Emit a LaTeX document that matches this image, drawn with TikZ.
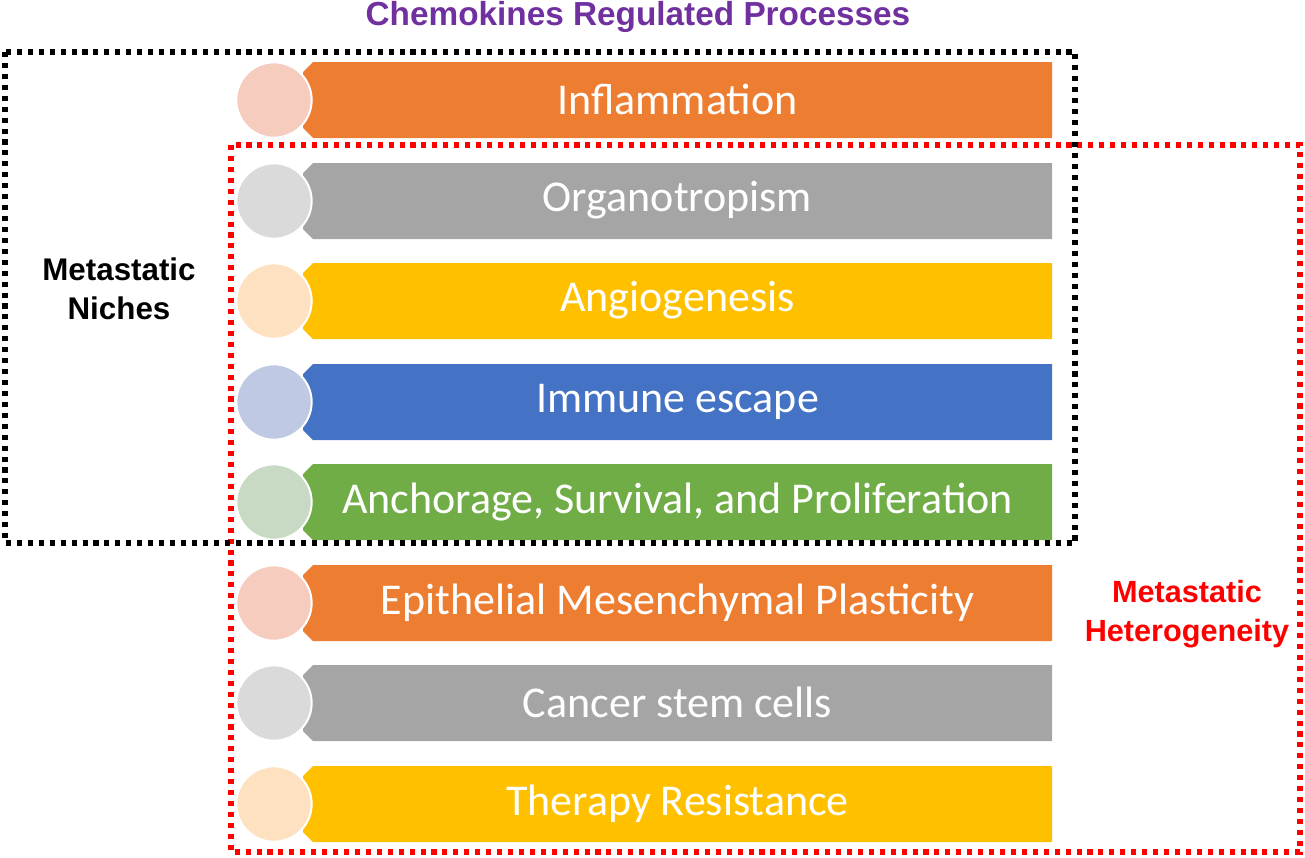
\documentclass[tikz,border=0pt]{standalone}
\usepackage{fontspec}
\setmainfont{Liberation Sans}
\newfontfamily\barfont{Carlito}
\definecolor{cOrange}{HTML}{ED7D31}
\definecolor{cOrangeL}{HTML}{F5CCBE}
\definecolor{cGray}{HTML}{A5A5A5}
\definecolor{cGrayL}{HTML}{DADADA}
\definecolor{cYellow}{HTML}{FFC000}
\definecolor{cYellowL}{HTML}{FEE1C0}
\definecolor{cBlue}{HTML}{4472C4}
\definecolor{cBlueL}{HTML}{BFC9E3}
\definecolor{cGreen}{HTML}{70AD47}
\definecolor{cGreenL}{HTML}{C8DAC3}
\definecolor{cPurple}{HTML}{7030A0}
\definecolor{cRed}{HTML}{FF0000}
\tikzset{
  barlabel/.style={text=white,font=\barfont\fontsize{33}{38}\selectfont,anchor=center,inner sep=0pt},
  dot/.style={fill,circle,draw=white,line width=1.5pt,minimum size=56.5pt,inner sep=0pt},
  dotbox/.style={line width=3.8pt,dash pattern=on 3.8pt off 4.4pt},
  sidelabel/.style={font=\bfseries\fontsize{23.5}{29}\selectfont,align=center,inner sep=0pt},
}
\begin{document}
\begin{tikzpicture}[x=0.75pt,y=-0.75pt]
\useasboundingbox (0,0) rectangle (1305,857);
\newcommand{\procrow}[5]{%
  % #1 name, #2 top y, #3 bar colour, #4 circle colour, #5 text
  \path[fill=#3] (313,#2) -- (1052,#2) -- (1052,#2+76) -- (313,#2+76) -- (303,#2+66) -- (303,#2+10) -- cycle;
  \node[dot,fill=#4] (#1c) at (274,#2+38) {};
  \node[barlabel] (#1) at (677.5,#2+37.5) {#5};
}
\procrow{r1}{62}{cOrange}{cOrangeL}{Inflammation}
\procrow{r2}{163}{cGray}{cGrayL}{Organotropism}
\procrow{r3}{263}{cYellow}{cYellowL}{Angiogenesis}
\procrow{r4}{364}{cBlue}{cBlueL}{Immune escape}
\procrow{r5}{464}{cGreen}{cGreenL}{Anchorage, Survival, and Proliferation}
\procrow{r6}{565}{cOrange}{cOrangeL}{Epithelial Mesenchymal Plasticity}
\procrow{r7}{665}{cGray}{cGrayL}{Cancer stem cells}
\procrow{r8}{766}{cYellow}{cYellowL}{Therapy Resistance}
\draw[dotbox,draw=cRed] (231,145) rectangle (1300,852);
\draw[dotbox,draw=black] (5,52) rectangle (1075,543);
\node[font=\bfseries\fontsize{25}{30}\selectfont,text=cPurple,inner sep=0pt,anchor=base] (title) at (638,25) {Chemokines Regulated Processes};
\node[sidelabel] (niches) at (119,289) {Metastatic\\Niches};
\node[sidelabel,text=cRed,font=\bfseries\fontsize{23}{29}\selectfont] (hetero) at (1187,614) {Metastatic\\Heterogeneity};
\end{tikzpicture}
\end{document}
